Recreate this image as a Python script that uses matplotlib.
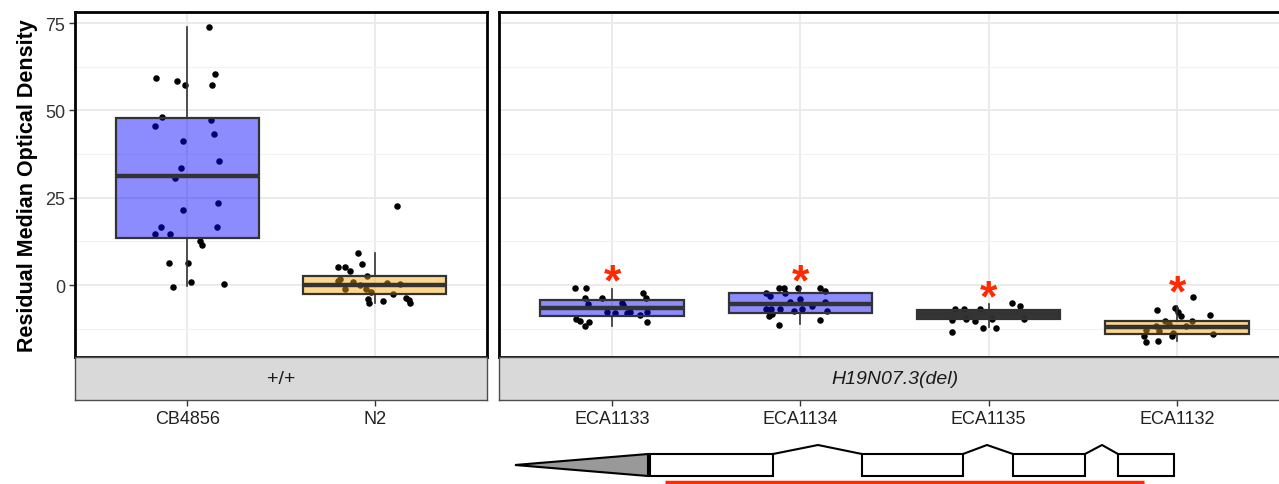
import matplotlib
matplotlib.use("Agg")
import matplotlib.pyplot as plt
from matplotlib.patches import Polygon, Rectangle
from matplotlib.ticker import FixedLocator

plt.rcParams['font.family'] = ['Liberation Sans', 'DejaVu Sans']

# ---------------- data ----------------
left_strains = ["CB4856", "N2"]
right_strains = ["ECA1133", "ECA1134", "ECA1135", "ECA1132"]
left_facet = "+/+"
right_facet = "H19N07.3(del)"
y_label = "Residual Median Optical Density"
y_ticks = [0, 25, 50, 75]

vals_CB4856 = [73.9, 59.4, 58.5, 57.4, 60.5, 57.4, 48.0, 47.4, 45.5, 43.4, 41.4, 35.5, 33.5,
               30.8, 23.6, 21.5, 16.5, 16.5, 14.5, 14.5, 12.7, 11.5, 6.4, 6.4, 0.9, -0.6, 0.4]
vals_N2 = [22.6, 9.1, 5.1, 5.1, 4.0, 5.9, 2.7, 1.2, 1.7, 1.0, 0.6, 0.2, -1.0, -1.0, -1.9,
           -2.5, -4.0, -5.0, -4.5, -3.8, -4.3, -5.0, 0.0]
vals_ECA1133 = [-0.7, -0.7, -3.8, -3.8, -2.2, -3.8, -5.4, -5.0, -5.7, -7.8, -8.1, -8.1, -7.8,
                -8.6, -7.8, -9.6, -10.2, -10.5, -11.7, -10.7]
vals_ECA1134 = [-0.9, -0.9, -0.9, -0.9, -1.8, -2.4, -3.1, -2.4, -4.8, -4.0, -4.8, -5.9, -6.9,
                -6.9, -6.9, -7.4, -6.9, -7.4, -8.3, -9.0, -9.9, -11.5]
vals_ECA1135 = [-6.9, -6.9, -6.9, -5.0, -5.9, -9.7, -9.9, -9.6, -10.3, -9.7, -13.3, -12.3, -12.3]
vals_ECA1132 = [-3.3, -7.1, -6.6, -8.5, -7.8, -9.0, -10.4, -10.4, -11.7, -11.2, -11.7, -12.9,
                -13.1, -13.8, -14.0, -14.7, -16.0, -16.4, -14.5]

# jitter offsets (horizontal positions)
jit_CB4856 = [0.115, -0.166, -0.053, -0.012, 0.148, 0.133, -0.136, 0.127, -0.175, 0.141, -0.025,
              0.171, -0.034, -0.067, 0.161, -0.023, -0.140, 0.157, -0.171, -0.092, 0.065, 0.076,
              -0.099, 0.004, 0.018, -0.076, 0.196]
jit_N2 = [0.118, -0.087, -0.198, -0.157, -0.131, -0.065, -0.042, -0.193, -0.184, -0.117, 0.064,
          0.134, -0.157, -0.046, -0.021, 0.099, -0.035, -0.030, 0.042, 0.170, 0.184, 0.187, -0.078]
jit_ECA1133 = [-0.197, -0.138, -0.145, -0.051, 0.163, 0.183, -0.128, 0.053, 0.059, -0.027, 0.018,
               0.080, 0.098, 0.151, 0.186, -0.190, -0.168, -0.124, -0.145, 0.186]
jit_ECA1134 = [-0.115, -0.089, -0.012, 0.106, 0.129, -0.181, -0.160, -0.083, -0.053, 0.0, 0.133,
               0.062, -0.181, -0.154, -0.106, -0.035, 0.009, 0.142, -0.151, -0.168, 0.103, -0.115]
jit_ECA1135 = [-0.177, -0.133, -0.044, 0.124, 0.168, 0.186, -0.195, -0.119, -0.071, 0.018,
               -0.195, -0.032, 0.039]
jit_ECA1132 = [0.083, -0.106, -0.012, 0.177, 0.004, 0.021, -0.064, 0.080, -0.112, -0.041, 0.048,
               -0.165, -0.094, -0.023, 0.190, -0.177, -0.103, -0.165, -0.027]

# box statistics: whislo, q1, med, q3, whishi
box_CB4856 = [-0.3, 13.5, 31.1, 47.8, 73.8]
box_N2 = [-5.0, -2.5, 0.0, 2.5, 9.1]
box_ECA1133 = [-11.7, -8.9, -6.6, -4.4, -1.0]
box_ECA1134 = [-11.2, -8.0, -5.3, -2.4, -0.7]
box_ECA1135 = [-12.1, -9.6, -8.3, -7.1, -5.3]
box_ECA1132 = [-16.0, -14.0, -12.1, -10.4, -5.9]

# significance asterisk heights
star_y = [0.7, 0.5, -4.1, -2.6]

fill_blue = (0.0, 0.0, 1.0, 0.45)
fill_orange = (1.0, 0.647, 0.0, 0.45)
fill_dark = (0.17, 0.17, 0.17, 0.95)

left_groups = [(vals_CB4856, jit_CB4856, box_CB4856, fill_blue),
               (vals_N2, jit_N2, box_N2, fill_orange)]
right_groups = [(vals_ECA1133, jit_ECA1133, box_ECA1133, fill_blue),
                (vals_ECA1134, jit_ECA1134, box_ECA1134, fill_blue),
                (vals_ECA1135, jit_ECA1135, box_ECA1135, fill_dark),
                (vals_ECA1132, jit_ECA1132, box_ECA1132, fill_orange)]

W, H = 1279, 485
fig = plt.figure(figsize=(W / 100, H / 100), dpi=100)


def fx(px):
    return px / W


def fy(py):
    return 1 - py / H


ylim = (-20.6, 78.2)
edge = "#333333"


def draw_panel(ax, groups, labels, n_units_right):
    ax.set_xlim(0.4, n_units_right)
    ax.set_ylim(*ylim)
    ax.set_facecolor("white")
    ax.yaxis.set_major_locator(FixedLocator(y_ticks))
    ax.yaxis.set_minor_locator(FixedLocator([-12.5, 12.5, 37.5, 62.5]))
    ax.xaxis.set_major_locator(FixedLocator(range(1, len(labels) + 1)))
    ax.grid(True, which="major", color="#EBEBEB", lw=1.4, zorder=0)
    ax.grid(True, which="minor", axis="y", color="#F2F2F2", lw=0.8, zorder=0)
    ax.set_axisbelow(True)
    ax.tick_params(axis="x", which="both", length=0, labelbottom=False)
    for s in ax.spines.values():
        s.set_color("black")
        s.set_linewidth(2.0)
        s.set_zorder(10)
    for i, (vals, jit, box, fc) in enumerate(groups):
        pos = i + 1
        ax.scatter([pos + j for j in jit], vals, s=22, color="black", zorder=2, linewidths=0)
        stats = [dict(whislo=box[0], q1=box[1], med=box[2], q3=box[3], whishi=box[4], fliers=[])]
        bp = ax.bxp(stats, positions=[pos], widths=0.76, patch_artist=True, showcaps=False,
                    showfliers=False, manage_ticks=False,
                    boxprops=dict(facecolor=fc, edgecolor=edge, linewidth=1.6),
                    medianprops=dict(color=edge, linewidth=3.2, solid_capstyle="butt"),
                    whiskerprops=dict(color=edge, linewidth=1.2))
        for art in bp["boxes"] + bp["medians"] + bp["whiskers"]:
            art.set_zorder(3)


# left panel
axL = fig.add_axes([fx(75), fy(358), fx(487 - 75), (358 - 13) / H])
draw_panel(axL, left_groups, left_strains, 2.6)
axL.tick_params(axis="y", which="major", length=4, width=1, color="#333333",
                labelsize=13, labelcolor="#333333", pad=3)
axL.tick_params(axis="y", which="minor", length=0)
axL.set_ylabel(y_label, fontsize=15.5, fontweight="bold", labelpad=5)

# right panel
axR = fig.add_axes([fx(499), fy(358), fx(1290 - 499), (358 - 13) / H])
draw_panel(axR, right_groups, right_strains, 4.6)
axR.tick_params(axis="y", which="both", length=0, labelleft=False)
for i, sy in enumerate(star_y):
    axR.text(i + 1, sy, "*", color="#FF2A00", fontsize=32, fontweight="bold",
             ha="center", va="center", zorder=5)

# strips with tick labels underneath
for (x0, x1, lab, style, names, xmax) in [
        (75, 487, left_facet, "normal", left_strains, 2.6),
        (499, 1290, right_facet, "italic", right_strains, 4.6)]:
    sax = fig.add_axes([fx(x0), fy(401), fx(x1 - x0), (401 - 358) / H])
    sax.set_facecolor("#D9D9D9")
    sax.set_xlim(0.4, xmax)
    sax.set_ylim(0, 1)
    sax.set_yticks([])
    sax.set_xticks(range(1, len(names) + 1))
    sax.set_xticklabels(names, fontsize=13, color="#222222")
    sax.tick_params(axis="x", length=4, width=1, color="#333333", pad=3)
    for s in sax.spines.values():
        s.set_color("#4D4D4D")
        s.set_linewidth(1.0)
    sax.text(0.5, 0.5, lab, transform=sax.transAxes, ha="center", va="center",
             fontsize=14, style=style, color="#1A1A1A")

# gene model overlay (figure-pixel coordinates)
gax = fig.add_axes([0, 0, 1, 1], facecolor="none")
gax.set_xlim(0, W)
gax.set_ylim(H, 0)
gax.axis("off")
exon_top, exon_bot = 455, 477
gax.add_patch(Polygon([(515, 466), (648, exon_top), (648, exon_bot)], closed=True,
                      facecolor="#999999", edgecolor="black", lw=1.5))
for (a, b) in [(650, 773), (862, 963), (1013, 1085), (1118, 1174)]:
    gax.add_patch(Rectangle((a, exon_top), b - a, exon_bot - exon_top,
                            facecolor="white", edgecolor="black", lw=1.5))
for (a, peak, b) in [(773, 818, 862), (963, 987, 1013), (1085, 1102, 1118)]:
    gax.plot([a, peak, b], [exon_top, 446, exon_top], color="black", lw=1.5)
gax.plot([665, 1144], [483, 483], color="#FF2A00", lw=2.5, solid_capstyle="butt")

fig.savefig("out.png", dpi=100)
